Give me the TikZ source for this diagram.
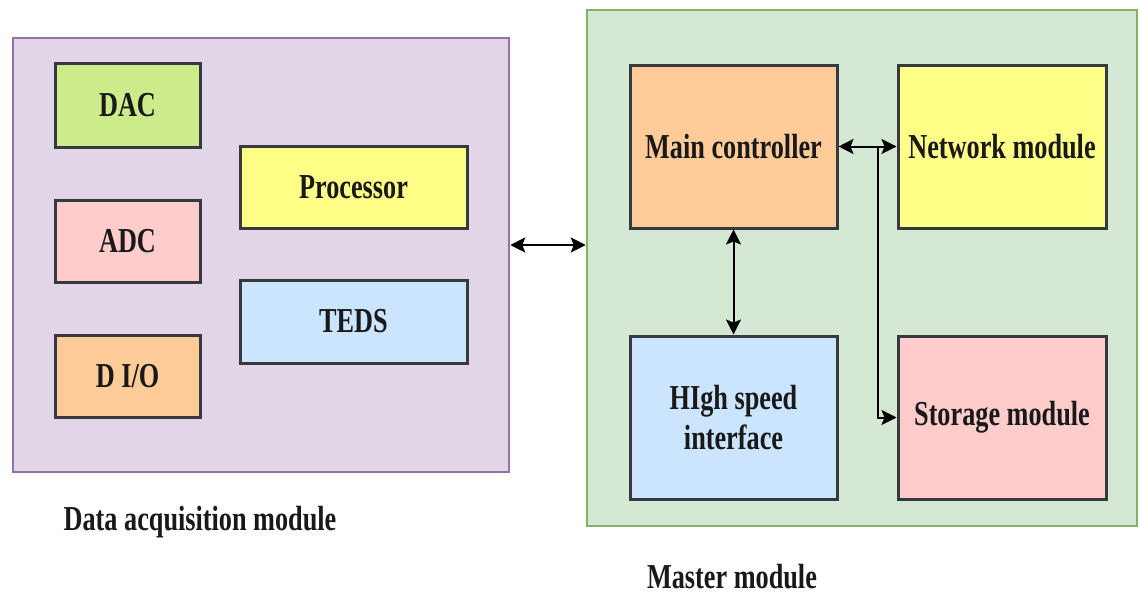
\documentclass[tikz,border=0pt]{standalone}
\usepackage{fontspec}
\setmainfont{Liberation Serif}[FakeStretch=0.75]
\usetikzlibrary{arrows.meta}
\definecolor{lavfill}{HTML}{E1D5E7}
\definecolor{lavline}{HTML}{9673A6}
\definecolor{grnfill}{HTML}{D5E8D4}
\definecolor{grnline}{HTML}{82B366}
\definecolor{boxline}{HTML}{36393D}
\definecolor{cgreen}{HTML}{CDEB8B}
\definecolor{cpink}{HTML}{FFCCCC}
\definecolor{corange}{HTML}{FFCC99}
\definecolor{cyellow}{HTML}{FFFF88}
\definecolor{cblue}{HTML}{CCE5FF}
\tikzset{
  outerbox/.style={draw, line width=2.5pt, inner sep=0pt},
  blk/.style={draw=boxline, line width=3pt, inner sep=0pt, align=center,
    font=\fontsize{35}{40}\selectfont\bfseries, text=black!90},
  lbl/.style={font=\fontsize{35}{40}\selectfont\bfseries, text=black!90},
  conn/.style={line width=2pt, {Stealth[length=15pt,width=15pt,inset=3pt]}-{Stealth[length=15pt,width=15pt,inset=3pt]}},
  conn1/.style={line width=2pt, -{Stealth[length=15pt,width=15pt,inset=3pt]}}
}
\begin{document}
\begin{tikzpicture}[x=1pt,y=-1pt]
\useasboundingbox[fill=white] (0,0) rectangle (1139,597);
% outer modules
\node[outerbox, draw=lavline, fill=lavfill, minimum width=496pt, minimum height=434pt] (dam) at (261,255) {};
\node[outerbox, draw=grnline, fill=grnfill, minimum width=550pt, minimum height=516pt] (mm) at (862,268) {};
% data acquisition blocks
\node[blk, fill=cgreen, minimum width=145pt, minimum height=84pt] (dac) at (127.5,105) {DAC};
\node[blk, fill=cpink, minimum width=145pt, minimum height=82pt] (adc) at (127.5,241) {ADC};
\node[blk, fill=corange, minimum width=145pt, minimum height=82pt] (dio) at (127.5,376) {D I/O};
\node[blk, fill=cyellow, minimum width=227pt, minimum height=82pt] (proc) at (353.5,187) {Processor};
\node[blk, fill=cblue, minimum width=227pt, minimum height=83pt] (teds) at (353.5,321.5) {TEDS};
% master blocks
\node[blk, fill=corange, minimum width=207pt, minimum height=163pt] (mc) at (733.5,146.5) {Main controller};
\node[blk, fill=cyellow, minimum width=208pt, minimum height=163pt] (net) at (1002,146.5) {Network module};
\node[blk, fill=cblue, minimum width=207pt, minimum height=163pt] (hs) at (733.5,417.5) {HIgh speed\\interface};
\node[blk, fill=cpink, minimum width=208pt, minimum height=163pt] (sto) at (1002,417.5) {Storage module};
% labels
\node[lbl] (l1) at (200,522) {Data acquisition module};
\node[lbl] (l2) at (732,577) {Master module};
% connectors
\coordinate (ay) at (0,245);
\draw[conn] (dam.east |- ay) -- (mm.west |- ay);
\draw[conn] (mc.east) -- (net.west);
\draw[conn] (mc.south) -- (hs.north);
\coordinate (jn) at (878,146.5);
\draw[conn1] (jn) -- (jn |- sto.west) -- (sto.west);
\end{tikzpicture}
\end{document}
